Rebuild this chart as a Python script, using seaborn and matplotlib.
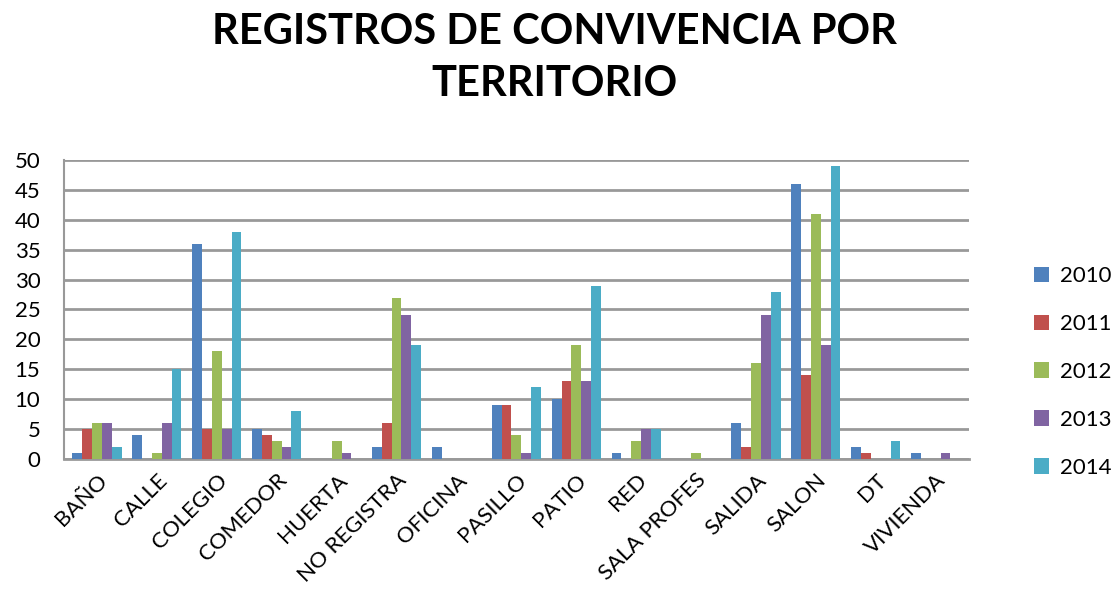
import matplotlib
matplotlib.use("Agg")
import matplotlib.pyplot as plt
import seaborn as sns
import pandas as pd
from matplotlib.patches import Patch

categories = ["BAÑO", "CALLE", "COLEGIO", "COMEDOR", "HUERTA", "NO REGISTRA",
              "OFICINA", "PASILLO", "PATIO", "RED", "SALA PROFES", "SALIDA",
              "SALON", "DT", "VIVIENDA"]
years = ["2010", "2011", "2012", "2013", "2014"]
v2010 = [1, 4, 36, 5, 0, 2, 2, 9, 10, 1, 0, 6, 46, 2, 1]
v2011 = [5, 0, 5, 4, 0, 6, 0, 9, 13, 0, 0, 2, 14, 1, 0]
v2012 = [6, 1, 18, 3, 3, 27, 0, 4, 19, 3, 1, 16, 41, 0, 0]
v2013 = [6, 6, 5, 2, 1, 24, 0, 1, 13, 5, 0, 24, 19, 0, 1]
v2014 = [2, 15, 38, 8, 0, 19, 0, 12, 29, 5, 0, 28, 49, 3, 0]
colors = ["#4F81BD", "#C0504D", "#9BBB59", "#8064A2", "#4BACC6"]

series = [v2010, v2011, v2012, v2013, v2014]
rows = []
for y, vals in zip(years, series):
    for c, v in zip(categories, vals):
        rows.append({"Territorio": c, "Año": y, "Registros": v})
df = pd.DataFrame(rows)

sns.set_theme(style="white")
plt.rcParams['font.family'] = ['Lato', 'DejaVu Sans']
plt.rcParams['text.color'] = 'black'

fig = plt.figure(figsize=(11.14, 5.99), dpi=100)
ax = fig.add_axes([0.0575, 0.2337, 0.812, 0.4993])

sns.barplot(data=df, x="Territorio", y="Registros", hue="Año", order=categories,
            hue_order=years, palette=colors, width=0.82, ax=ax, legend=False,
            saturation=1, edgecolor="none", zorder=3)

ax.set_ylim(0, 50)
ax.set_xlim(-0.55, 14.55)
ax.set_yticks(range(0, 51, 5))
ax.yaxis.grid(True, color="#999999", linewidth=2, zorder=0)
ax.set_axisbelow(True)
for s in ["top", "right"]:
    ax.spines[s].set_visible(False)
ax.spines["left"].set_color("#999999")
ax.spines["left"].set_linewidth(1.5)
ax.spines["bottom"].set_color("#999999")
ax.spines["bottom"].set_linewidth(2)
ax.set_xlabel("")
ax.set_ylabel("")
ax.tick_params(axis="y", labelsize=16, pad=17, length=0, labelcolor="black")
ax.tick_params(axis="x", labelsize=16, length=0, pad=8, labelcolor="black")
plt.setp(ax.get_xticklabels(), rotation=45, ha="right", rotation_mode="anchor")

fig.text(0.498, 0.978, "REGISTROS DE CONVIVENCIA POR\nTERRITORIO", ha="center", va="top",
         fontsize=30, fontweight="bold", linespacing=1.45, color="black")

handles = [Patch(facecolor=c, edgecolor="none") for c in colors]
fig.legend(handles, years, loc="center left", bbox_to_anchor=(0.928, 0.379),
           frameon=False, fontsize=16, handlelength=0.7, handleheight=0.7,
           handletextpad=0.5, labelspacing=1.25, borderaxespad=0, borderpad=0)

fig.savefig("out.png", dpi=100)
